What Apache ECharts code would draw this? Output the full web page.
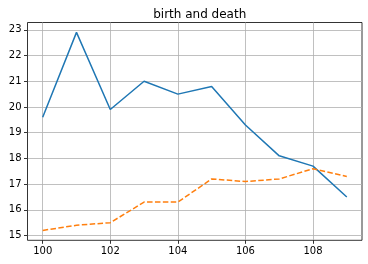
<!DOCTYPE html>
<html>
<head>
<meta charset="utf-8">
<script src="https://cdn.jsdelivr.net/npm/echarts@6/dist/echarts.min.js"></script>
<style>html,body{margin:0;padding:0;background:#fff}#c{width:368px;height:264px}</style>
</head>
<body>
<div id="c"></div>
<script>
const years = [100, 101, 102, 103, 104, 105, 106, 107, 108, 109];
const birth = [19.6, 22.9, 19.9, 21.0, 20.5, 20.8, 19.3, 18.1, 17.7, 16.5];
const death = [15.2, 15.4, 15.5, 16.3, 16.3, 17.2, 17.1, 17.2, 17.6, 17.3];
const xTicks = [100, 102, 104, 106, 108];
const yTicks = [15, 16, 17, 18, 19, 20, 21, 22, 23];
const title = 'birth and death';

const chart = echarts.init(document.getElementById('c'), null, {renderer: 'canvas'});
const font = 'DejaVu Sans';
chart.setOption({
  animation: false,
  backgroundColor: '#fff',
  title: {
    text: title, left: 194.75, top: 4, textAlign: 'center',
    textStyle: {fontFamily: font, fontSize: 12, fontWeight: 'normal', color: '#000'}
  },
  grid: {left: 27.5, right: 6, top: 22.5, bottom: 23.7, show: true, borderColor: '#000', borderWidth: 0.8, backgroundColor: 'transparent'},
  xAxis: {
    type: 'value', min: 99.55, max: 109.45,
    axisLine: {show: false},
    axisTick: {show: true, length: 3.5, lineStyle: {color: '#000', width: 0.8}, customValues: xTicks},
    axisLabel: {customValues: xTicks, fontFamily: font, fontSize: 10, color: '#000', margin: 6},
    splitLine: {show: true, lineStyle: {color: '#b0b0b0', width: 0.8}}
  },
  yAxis: {
    type: 'value', min: 14.815, max: 23.285,
    axisLine: {show: false},
    axisTick: {show: true, length: 3.5, lineStyle: {color: '#000', width: 0.8}, customValues: yTicks},
    axisLabel: {customValues: yTicks, fontFamily: font, fontSize: 10, color: '#000', margin: 6},
    splitLine: {show: true, lineStyle: {color: '#b0b0b0', width: 0.8}}
  },
  series: [
    {type: 'line', data: years.map((x, i) => [x, birth[i]]), showSymbol: false, lineStyle: {color: '#1f77b4', width: 1.5}, itemStyle: {color: '#1f77b4'}},
    {type: 'line', data: years.map((x, i) => [x, death[i]]), showSymbol: false, lineStyle: {color: '#ff7f0e', width: 1.5, type: [5.5, 2.4]}, itemStyle: {color: '#ff7f0e'}}
  ]
});
</script>
</body>
</html>
